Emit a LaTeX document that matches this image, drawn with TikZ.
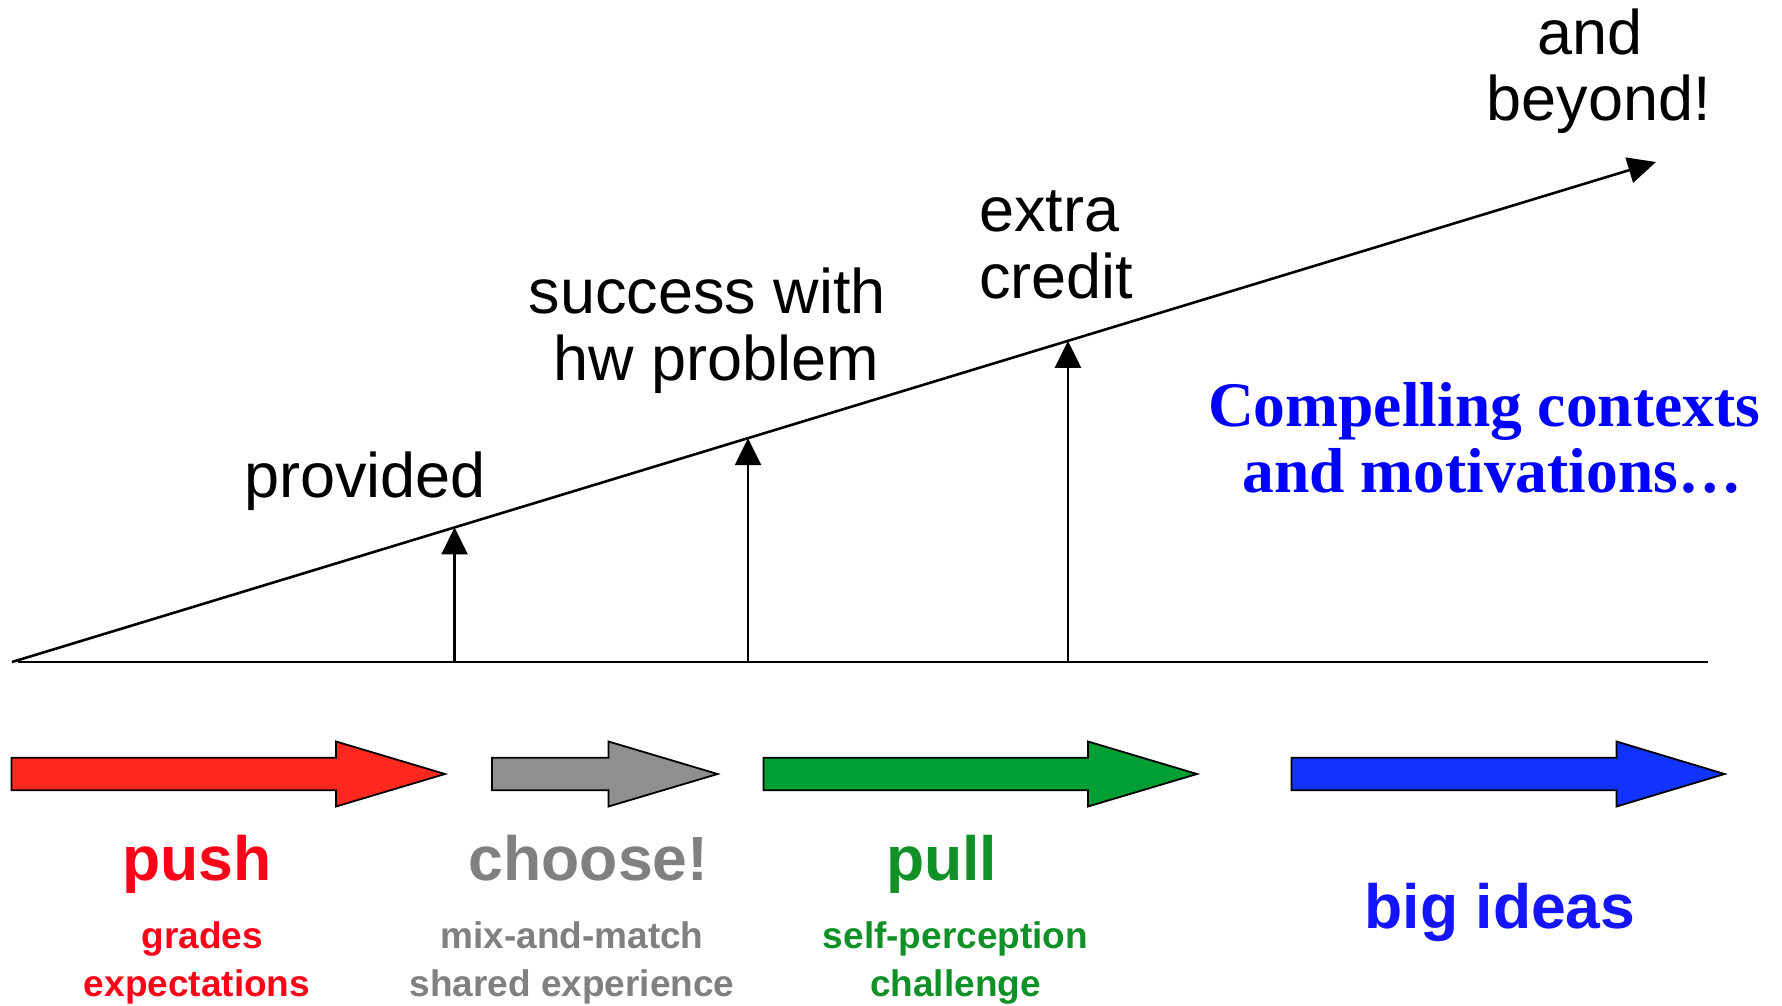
\documentclass[tikz,border=0pt]{standalone}
\usepackage{fontspec}
\setmainfont{Liberation Sans}
\newfontfamily\serifbold{Liberation Serif}
\usetikzlibrary{arrows.meta,calc}

\definecolor{pushfill}{RGB}{255,40,30}
\definecolor{choosefill}{RGB}{143,143,143}
\definecolor{pullfill}{RGB}{0,158,51}
\definecolor{bigfill}{RGB}{17,51,255}
\definecolor{pushtext}{RGB}{255,0,25}
\definecolor{choosetext}{RGB}{128,128,128}
\definecolor{pulltext}{RGB}{16,145,40}
\definecolor{bigtext}{RGB}{20,20,255}
\definecolor{contexttext}{RGB}{0,0,255}

\begin{document}
\begin{tikzpicture}[x=0.5pt,y=0.5pt,yscale=-1,
		axisline/.style={line width=1.3pt},
		riser/.style={line width=1.2pt,-{Triangle[length=13.5pt,width=13pt]}},
		steplabel/.style={font=\fontsize{31.5}{33.3}\selectfont,inner sep=0pt,anchor=base,align=center},
		modelabel/.style={font=\bfseries\fontsize{31.25}{33}\selectfont,inner sep=0pt,anchor=base},
		sublabel/.style={font=\bfseries\fontsize{18.5}{24.2}\selectfont,inner sep=0pt,anchor=base,align=center},
		fatarrow/.style={draw=black,line width=0.9pt,miter limit=10}]
		\useasboundingbox (0,0) rectangle (1782,1006);
		
		%Axis and slope
		\coordinate (O) at (12,662);
		\coordinate (E) at (1656,162);
		\coordinate (L) at (18,662);
		\coordinate (R) at (1708,662);
		\draw [axisline] (L) -- (R) ;
		\draw [axisline,-{Triangle[length=14pt,width=13pt]}] (O) -- (E) ;
		
		%Risers up to the slope
		\coordinate (topa) at ($(O)!0.2692!(E)$);
		\coordinate (topb) at ($(O)!0.4477!(E)$);
		\coordinate (topc) at ($(O)!0.6423!(E)$);
		\draw [riser] (topa |- L) -- (topa) ;
		\draw [riser] (topb |- L) -- (topb) ;
		\draw [riser] (topc |- L) -- (topc) ;
		
		%Right Arrow (push)
		\draw [fatarrow,fill=pushfill] (11.5,757.8) -- (336,757.8) -- (336,741.5) -- (445,774) -- (336,806.5) -- (336,790.2) -- (11.5,790.2) -- cycle ;
		%Right Arrow (choose)
		\draw [fatarrow,fill=choosefill] (492,757.8) -- (608.5,757.8) -- (608.5,741.5) -- (717.6,774) -- (608.5,806.5) -- (608.5,790.2) -- (492,790.2) -- cycle ;
		%Right Arrow (pull)
		\draw [fatarrow,fill=pullfill] (763.5,757.8) -- (1088,757.8) -- (1088,741.5) -- (1197,774) -- (1088,806.5) -- (1088,790.2) -- (763.5,790.2) -- cycle ;
		%Right Arrow (big ideas)
		\draw [fatarrow,fill=bigfill] (1291.4,757.8) -- (1616.5,757.8) -- (1616.5,741.5) -- (1724.6,774) -- (1616.5,806.5) -- (1616.5,790.2) -- (1291.4,790.2) -- cycle ;
		
		% Text Nodes on the slope (base = last line)
		\node [steplabel] (provided) at (365,497) {provided};
		\node [steplabel] (success) at (716,380) {success with\hphantom{\ }\\hw problem};
		\node [steplabel,align=left,anchor=base west] (extra) at (979,298.3) {extra\\credit};
		\node [steplabel] (beyond) at (1599,120.7) {and\hphantom{\ }\\beyond!};
		\node [steplabel,font=\serifbold\bfseries\fontsize{31.75}{33.3}\selectfont,text=contexttext] (contexts) at (1492,492.7) {Compelling contexts\hphantom{\ }\\and motivations…};
		
		% Text Nodes under the arrows
		\node [modelabel,text=pushtext] (push) at (196.7,880) {push};
		\node [sublabel,text=pushtext] (pushwhy) at (197,996.7) {\hphantom{\ }grades\\expectations};
		\node [modelabel,text=choosetext] (choose) at (588.5,880) {choose!};
		\node [sublabel,text=choosetext] (choosewhy) at (572,996.7) {mix-and-match\\shared experience};
		\node [modelabel,text=pulltext] (pull) at (941.7,880) {pull};
		\node [sublabel,text=pulltext] (pullwhy) at (955.5,996.7) {self-perception\\challenge};
		\node [modelabel,text=bigtext] (bigideas) at (1500,928) {big ideas};
	\end{tikzpicture}
\end{document}
